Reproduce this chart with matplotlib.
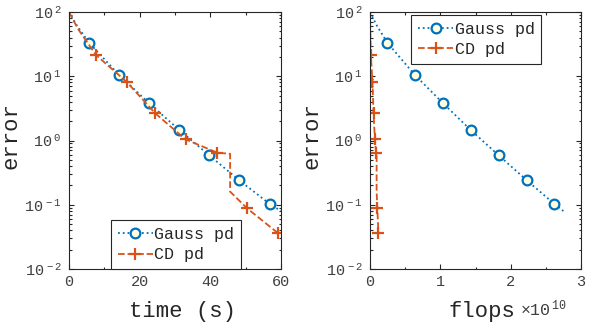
import math

import matplotlib
matplotlib.use("Agg")
import matplotlib.pyplot as plt
from matplotlib.ticker import LogLocator, FuncFormatter, MultipleLocator, NullFormatter

plt.rcParams["font.family"] = ["Liberation Mono", "DejaVu Sans"]
plt.rcParams["mathtext.fontset"] = "custom"
plt.rcParams["mathtext.rm"] = "Liberation Mono"
plt.rcParams["mathtext.it"] = "Liberation Mono"
plt.rcParams["mathtext.bf"] = "Liberation Mono"

# Gauss pd: first and last entries are line ends, the rest carry markers
gauss_time = [0, 2.2, 5.66, 14.15, 22.7, 31.2, 39.7, 48.2, 56.8, 60.0]
gauss_flops = [0, 0.095, 0.246, 0.637, 1.04, 1.43, 1.83, 2.23, 2.62, 2.75]  # x1e10
gauss_err = [100, 62, 33.3, 10.5, 3.79, 1.46, 0.587, 0.240, 0.103, 0.080]
gauss_marks = [2, 3, 4, 5, 6, 7, 8]

# CD pd: includes the plateau/drop around t=45
cd_time = [0, 2.5, 7.64, 16.3, 24.4, 33.0, 42.0, 45.6, 45.6, 50.4, 59.2]
cd_flops = [0, 0.004, 0.012, 0.035, 0.05, 0.07, 0.086, 0.094, 0.094, 0.104, 0.12]
cd_err = [100, 55, 21.4, 8.2, 2.65, 1.04, 0.646, 0.62, 0.16, 0.088, 0.036]
cd_marks = [2, 3, 4, 5, 6, 9, 10]

BLUE = "#0072BD"
ORANGE = "#D95319"
DARK = "#262626"
TICK = "#404040"

fig = plt.figure(figsize=(5.98, 3.30), dpi=100)
ax1 = fig.add_axes([69 / 598, 1 - 269 / 330, 212 / 598, 257 / 330])
ax2 = fig.add_axes([370 / 598, 1 - 269 / 330, 211 / 598, 257 / 330])


def pow_fmt(v, pos):
    return r"$\mathregular{10^{\;%d}}$" % round(math.log10(v))


def style(ax, xmax, xmajor, xminor):
    ax.set_yscale("log")
    ax.set_ylim(1e-2, 1e2)
    ax.set_xlim(0, xmax)
    ax.xaxis.set_major_locator(MultipleLocator(xmajor))
    ax.xaxis.set_minor_locator(MultipleLocator(xminor))
    ax.yaxis.set_major_locator(LogLocator(base=10, numticks=10))
    ax.yaxis.set_minor_locator(LogLocator(base=10, subs=range(2, 10), numticks=20))
    ax.yaxis.set_major_formatter(FuncFormatter(pow_fmt))
    ax.yaxis.set_minor_formatter(NullFormatter())
    ax.tick_params(which="both", direction="in", top=True, right=True,
                   colors=DARK, labelcolor=TICK, labelsize=11, width=0.8)
    ax.tick_params(which="major", length=3.6, pad=4)
    ax.tick_params(axis="y", which="major", pad=5.5)
    ax.tick_params(which="minor", length=1.8)
    for s in ax.spines.values():
        s.set_color(DARK)
        s.set_linewidth(0.8)
    ax.set_ylabel("error", fontsize=16, color=DARK)
    ax.yaxis.set_label_coords(-0.225, 0.52)


def draw(ax, gx, cx, loc, anchor):
    ax.plot(gx, gauss_err, ":", color=BLUE, lw=1.3, marker="o", ms=7,
            mfc="#FFFFE0", mec=BLUE, mew=1.6, markevery=gauss_marks, label="Gauss pd")
    ax.plot(cx, cd_err, "--", color=ORANGE, lw=1.3, marker="+", ms=8,
            mew=1.6, markevery=cd_marks, label="CD pd")
    leg = ax.legend(loc=loc, bbox_to_anchor=anchor, fontsize=12, frameon=True,
                    fancybox=False, framealpha=1, edgecolor=DARK, borderpad=0.4,
                    handlelength=2.1, handletextpad=0.1, labelspacing=0.32,
                    borderaxespad=0)
    leg.get_frame().set_linewidth(0.8)
    for t in leg.get_texts():
        t.set_color(DARK)


draw(ax1, gauss_time, cd_time, "lower left", (0.198, 0.0))
style(ax1, 60, 20, 10)
ax1.set_xlabel("time (s)", fontsize=16, color=DARK)
ax1.xaxis.set_label_coords(0.535, -0.125)

draw(ax2, gauss_flops, cd_flops, "upper left", (0.196, 0.988))
style(ax2, 3, 1, 0.5)
ax2.set_xlabel("flops", fontsize=16, color=DARK)
ax2.xaxis.set_label_coords(0.531, -0.125)
ax2.text(0.71, -0.183, r"$\mathregular{\times10^{\,10}}$", transform=ax2.transAxes,
         fontsize=12, color=TICK, ha="left", va="baseline")

fig.savefig("out.png", dpi=100)
